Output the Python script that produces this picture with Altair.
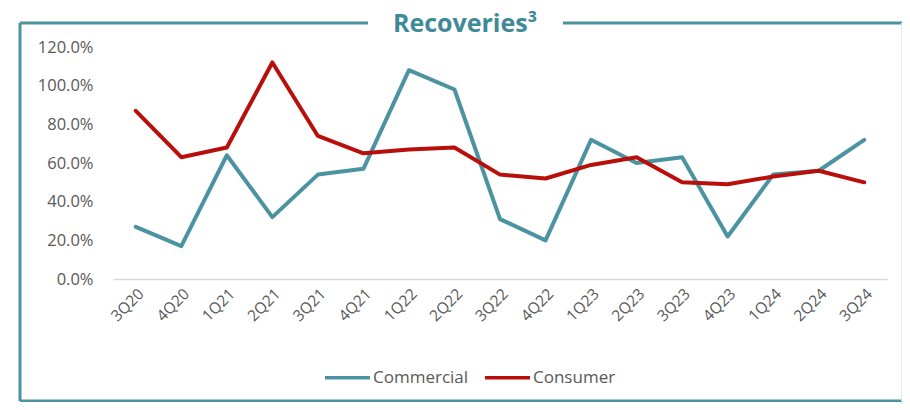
import altair as alt
import pandas as pd

quarters = ["3Q20", "4Q20", "1Q21", "2Q21", "3Q21", "4Q21", "1Q22", "2Q22", "3Q22",
            "4Q22", "1Q23", "2Q23", "3Q23", "4Q23", "1Q24", "2Q24", "3Q24"]
commercial = [0.27, 0.17, 0.64, 0.32, 0.54, 0.57, 1.08, 0.98, 0.31,
              0.20, 0.72, 0.60, 0.63, 0.22, 0.54, 0.56, 0.72]
consumer = [0.87, 0.63, 0.68, 1.12, 0.74, 0.65, 0.67, 0.68, 0.54,
            0.52, 0.59, 0.63, 0.50, 0.49, 0.53, 0.56, 0.50]
series = ["Commercial", "Consumer"]
colors = ["#4B93A0", "#B80F0A"]
y_ticks = [0, 0.2, 0.4, 0.6, 0.8, 1.0, 1.2]
title_text = "Recoveries³"

df = pd.DataFrame({"Quarter": quarters, "Commercial": commercial, "Consumer": consumer})
long = df.melt(id_vars="Quarter", var_name="Series", value_name="Value")

FONT = "Open Sans"
TEAL = "#4B93A0"
W, H = 774, 232

lines = alt.Chart(long).mark_line(strokeWidth=4, strokeCap="round", strokeJoin="round").encode(
    x=alt.X("Quarter:N", sort=quarters,
            scale=alt.Scale(type="point", padding=0.5),
            axis=alt.Axis(title=None, labelAngle=-45, ticks=False, domainColor="#d9d9d9",
                          domainWidth=1.5, labelColor="#595959", labelFontSize=15.5,
                          labelFont=FONT, labelPadding=7)),
    y=alt.Y("Value:Q", scale=alt.Scale(domain=[0, 1.2], nice=False),
            axis=alt.Axis(title=None, values=y_ticks, format=".1%", grid=False, domain=False,
                          ticks=False, labelColor="#595959", labelFontSize=16.5,
                          labelFont=FONT, labelPadding=20)),
    color=alt.Color("Series:N", scale=alt.Scale(domain=series, range=colors),
                    legend=alt.Legend(title=None, orient="none", legendX=210, legendY=306,
                                      direction="horizontal", symbolType="stroke",
                                      symbolSize=2025, symbolStrokeWidth=3.5,
                                      labelFontSize=17, labelFont=FONT, labelColor="#595959",
                                      labelOffset=1, columnPadding=9)),
)

frame_color = TEAL
left_x, right_x = -93, 789
top_y, bot_y = -24, 354
gap_l, gap_r = 255, 450

frame_df = pd.DataFrame({"k": [0]})
def seg(x1, x2, y1, y2, color=frame_color, w=3):
    return alt.Chart(frame_df).mark_rule(color=color, strokeWidth=w).encode(
        x=alt.value(x1), x2=alt.value(x2), y=alt.value(y1), y2=alt.value(y2))

frame = (
    seg(left_x, left_x, top_y, bot_y)
    + seg(left_x, gap_l, top_y, top_y)
    + seg(gap_r, right_x + 6, top_y, top_y)
    + seg(left_x, right_x + 6, bot_y, bot_y)
    + seg(right_x, right_x, top_y, bot_y, color="#d8eef2", w=2)
)

title = alt.Chart(frame_df).mark_text(
    text=title_text, font=FONT, fontSize=25, fontWeight="bold", color="#3E8A97",
    align="center", baseline="middle").encode(x=alt.value(352), y=alt.value(-23))

chart = alt.layer(frame, lines, title).properties(
    width=W, height=H,
    background="white",
    autosize=alt.AutoSizeParams(type="none"),
    padding={"left": 105, "top": 39, "right": 15, "bottom": 123},
).configure_view(stroke="transparent", strokeWidth=0)

chart.save("out.html", embed_options={"renderer": "svg", "actions": False})
